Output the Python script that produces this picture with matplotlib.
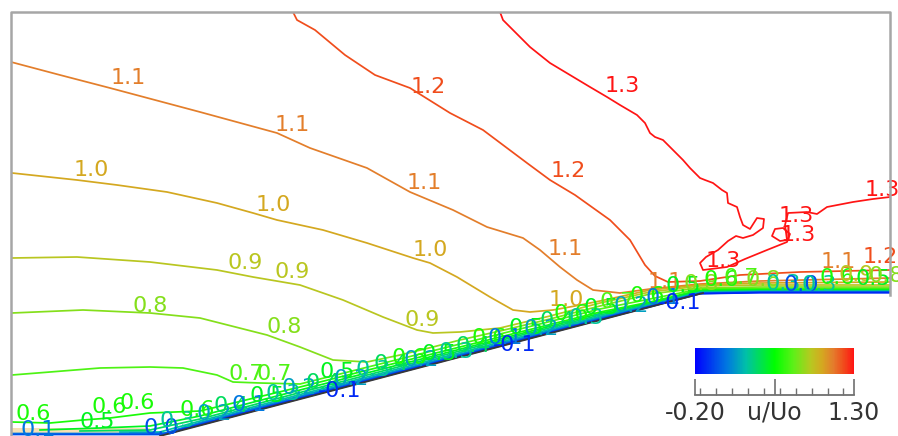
import matplotlib
matplotlib.use("Agg")
import matplotlib.pyplot as plt
from matplotlib.colors import LinearSegmentedColormap, Normalize
from matplotlib.cm import ScalarMappable
from matplotlib.ticker import FixedLocator, MultipleLocator

plt.rcParams["font.family"] = ["DejaVu Sans"]

# ---------------------------------------------------------------------------
# Domain geometry (x, y in mm; ramp rises from the lower flat to the upper flat)
# ---------------------------------------------------------------------------
frame_x = [0, 0, 879, 879]
frame_y = [0, 424, 424, 141]
wall_x = [149, 692]
wall_y = [0, 143]

# ---------------------------------------------------------------------------
# Iso-lines of u/Uo
# ---------------------------------------------------------------------------
x13 = [489, 492, 519, 539, 579, 596, 609, 626, 634, 639, 644, 652, 659, 672, 679,
       689, 694, 702, 711, 716, 717, 726, 729, 732, 739, 746, 753, 752, 742, 732,
       725, 717, 707, 695, 689, 692, 716, 734, 756, 776, 779, 772, 764, 761, 769,
       776, 774, 777, 796, 806, 816, 842, 862, 879]
y13 = [424, 416, 389, 373, 349, 339, 331, 321, 313, 303, 299, 296, 289, 276, 268,
       258, 256, 253, 246, 243, 233, 229, 219, 211, 207, 218, 217, 208, 201, 198,
       200, 195, 186, 179, 173, 166, 169, 177, 186, 194, 202, 208, 207, 200, 195,
       196, 211, 223, 224, 222, 229, 234, 237, 239]

x12 = [282, 286, 304, 334, 364, 399, 439, 472, 516, 539, 564, 599, 619, 634, 644,
       657, 689, 729, 789, 879]
y12 = [424, 416, 406, 381, 361, 348, 323, 306, 273, 256, 241, 216, 196, 171, 160,
       154, 155, 161, 164, 166]

x11 = [0, 49, 99, 189, 266, 299, 356, 399, 442, 476, 512, 529, 549, 566, 582, 609,
       639, 689, 749, 879]
y11 = [374, 361, 348, 324, 303, 288, 268, 244, 226, 209, 198, 186, 169, 156, 146,
       143, 147, 152, 155, 158]

x10 = [1, 66, 106, 156, 206, 242, 266, 312, 356, 402, 419, 446, 479, 502, 519, 542,
       564, 589, 639, 689, 749, 879]
y10 = [263, 256, 251, 244, 233, 223, 216, 206, 193, 178, 173, 159, 139, 126, 124,
       126, 130, 135, 146, 151, 153, 154]

x09 = [1, 66, 139, 206, 242, 289, 332, 372, 406, 422, 449, 489, 539, 589, 639, 689,
       749, 879]
y09 = [178, 179, 174, 166, 159, 151, 136, 119, 106, 103, 104, 108, 120, 133, 144,
       150, 151, 151]

x08 = [1, 72, 139, 189, 256, 289, 322, 356, 389, 422, 449, 489, 539, 589, 639, 689,
       749, 879]
y08 = [123, 126, 123, 118, 101, 89, 76, 74, 81, 89, 96, 105, 117, 130, 142, 148,
       149, 149]

x07 = [1, 39, 89, 139, 172, 206, 222, 249, 289, 389, 489, 589, 639, 689, 749, 879]
y07 = [61, 64, 68, 69, 68, 61, 54, 53, 52, 77, 102, 127, 137, 147, 147.5, 147.5]

x06 = [1, 39, 72, 99, 139, 189, 289, 389, 489, 589, 639, 689, 749, 879]
y06 = [14, 13, 16, 18, 23, 25, 49, 74, 99, 124, 134, 146, 146.5, 146.5]

x05 = [29, 89, 139, 189, 289, 389, 489, 589, 639, 689, 749, 879]
y05 = [6, 8, 10, 20, 46, 71.5, 97, 122.5, 133, 145, 145.8, 145.8]

x04 = [69, 139, 189, 289, 389, 489, 589, 639, 689, 749, 879]
y04 = [5, 6, 17, 43.5, 69.5, 95.5, 121, 132, 144.3, 145.2, 145.2]

x03 = [109, 149, 189, 289, 389, 489, 589, 639, 689, 749, 879]
y03 = [4, 4, 15, 41.5, 67.7, 93.8, 119.7, 131, 143.7, 144.7, 144.7]

x02 = [119, 154, 189, 289, 389, 489, 589, 639, 689, 749, 879]
y02 = [3, 3, 13.5, 40, 66.2, 92.4, 118.5, 130.5, 143.2, 144.3, 144.3]

x01 = [0, 159, 189, 289, 389, 489, 589, 639, 689, 749, 879]
y01 = [2.5, 2.5, 12.5, 38.8, 65.1, 91.4, 117.6, 130, 142.8, 144, 144]

x00 = [0, 150, 189, 289, 389, 489, 589, 639, 689, 749, 879]
y00 = [1.5, 1.5, 11.7, 38, 64.3, 90.6, 116.8, 129.5, 142.5, 143.6, 143.6]

xm1 = [169, 189, 289, 389, 489, 589, 639, 689, 749, 879]
ym1 = [6, 11, 37.4, 63.7, 90, 116.3, 129.2, 142.3, 143.3, 143.3]

# Pale bands hugging the walls
band_left_x = [0, 139]
band_left_lo = [3, 3]
band_left_hi = [8, 8]
band_right_x = [819, 879]
band_right_lo = [144, 144]
band_right_hi = [149, 149]

# ---------------------------------------------------------------------------
# Inline labels: position and level
# ---------------------------------------------------------------------------
label_x = [611, 871, 785, 787, 712,
           417, 557, 869,
           117, 281, 413, 554, 654, 827,
           80, 262, 419, 555,
           234, 281, 411,
           139, 273,
           235, 263,
           22, 98, 126]
label_y = [350, 246, 220, 201, 175,
           349, 265, 179,
           358, 311, 253, 187, 154, 174,
           266, 231, 186, 136,
           173, 164, 116,
           130, 109,
           62, 62,
           22, 29, 33]
label_level = [1.3, 1.3, 1.3, 1.3, 1.3,
               1.2, 1.2, 1.2,
               1.1, 1.1, 1.1, 1.1, 1.1, 1.1,
               1.0, 1.0, 1.0, 1.0,
               0.9, 0.9, 0.9,
               0.8, 0.8,
               0.7, 0.7,
               0.6, 0.6, 0.6]

# Labels crowded in the thin shear layer along the walls
wall_label_x = [27, 86, 150, 166, 186, 203, 220, 238, 256, 272, 288, 312, 326, 329,
                340, 362, 380, 398, 410, 428, 445, 462, 478, 494, 504, 515, 530, 546,
                560, 575, 590, 606, 620, 636, 652, 669, 672, 690, 710, 730, 752, 772,
                790, 808, 826, 845, 862, 875]
wall_label_y = [6, 14, 8, 15, 26, 22, 30, 31, 40, 42, 48, 53, 64, 45,
                57, 66, 72, 78, 76, 82, 84, 90, 98, 98, 91, 108, 107, 115,
                122, 118, 128, 134, 130, 140, 138, 133, 150, 152, 156, 158, 156, 152,
                151, 151, 158, 161, 157, 160]
wall_label_level = [0.1, 0.5, 0.0, 0.3, 0.6, 0.2, 0.4, 0.1, 0.5, 0.3, 0.2, 0.4, 0.5, -0.1,
                    0.2, 0.3, 0.4, 0.6, 0.2, 0.5, 0.3, 0.4, 0.6, 0.1, -0.1, 0.5, 0.2, 0.4,
                    0.6, 0.3, 0.5, 0.7, 0.2, 0.6, 0.1, -0.1, 0.5, 0.8, 0.6, 0.7, 0.8, 0.3,
                    0.0, 0.3, 0.6, 0.9, 0.5, 0.8]

# Colour scale
vmin, vmax = -0.20, 1.30
scale_ticks = [-0.20, 0.55, 1.30]
scale_labels = ["-0.20", "u/Uo", "1.30"]

cmap = LinearSegmentedColormap.from_list(
    "uvel",
    [(0.0, "#0000ff"), (0.2, "#0078e0"), (0.32, "#00c0a8"), (0.5, "#00ff00"),
     (0.62, "#5ef018"), (0.73, "#b8c820"), (0.80, "#d4a820"), (0.87, "#e47c2c"),
     (0.935, "#f04c1c"), (1.0, "#ff1414")])
norm = Normalize(vmin, vmax)

# ---------------------------------------------------------------------------
W, H = 898, 436
fig = plt.figure(figsize=(W / 100, H / 100), dpi=100)
ax = fig.add_axes([11 / W, 0, 879 / W, 424 / H])
ax.set_xlim(0, 879)
ax.set_ylim(0, 424)
ax.axis("off")

ax.fill_between(band_left_x, band_left_lo, band_left_hi, color="#f6dfb4", lw=0, zorder=1)
ax.fill_between(band_right_x, band_right_lo, band_right_hi, color="#eef0b0", lw=0, zorder=1)

iso_lines = [
    (1.3, x13, y13), (1.2, x12, y12), (1.1, x11, y11), (1.0, x10, y10),
    (0.9, x09, y09), (0.8, x08, y08), (0.7, x07, y07), (0.6, x06, y06),
    (0.5, x05, y05), (0.4, x04, y04), (0.3, x03, y03), (0.2, x02, y02),
    (0.1, x01, y01), (0.0, x00, y00), (-0.1, xm1, ym1),
]
for level, xs, ys in iso_lines:
    ax.plot(xs, ys, color=cmap(norm(level)), lw=1.25, solid_joinstyle="round",
            zorder=3)

ax.plot(wall_x, wall_y, color="#383838", lw=1.3, zorder=4)
ax.plot(frame_x, frame_y, color="#a6a6a6", lw=1.8, clip_on=False, zorder=6)

for xs, ys, levels in [(label_x, label_y, label_level),
                       (wall_label_x, wall_label_y, wall_label_level)]:
    for x, y, lev in zip(xs, ys, levels):
        ax.text(x, y, f"{lev:.1f}", color=cmap(norm(lev)), fontsize=16,
                ha="center", va="center", clip_on=False, zorder=5)

# Colour bar
cax = fig.add_axes([695 / W, (H - 374) / H, 159 / W, 26 / H])
cb = fig.colorbar(ScalarMappable(norm=norm, cmap=cmap), cax=cax,
                  orientation="horizontal")
cb.outline.set_visible(False)
cb.set_ticks([])

sax = fig.add_axes([695 / W, (H - 395) / H, 159 / W, 16 / H])
sax.patch.set_alpha(0)
sax.set_xlim(vmin, vmax)
sax.set_yticks([])
for side in ("left", "right", "top"):
    sax.spines[side].set_visible(False)
sax.spines["bottom"].set_color("#707070")
sax.spines["bottom"].set_linewidth(1.3)
sax.xaxis.set_major_locator(FixedLocator(scale_ticks))
sax.set_xticklabels(scale_labels)
sax.xaxis.set_minor_locator(MultipleLocator(0.15))
sax.tick_params(axis="x", which="major", direction="in", length=11.5, width=1.2,
                color="#707070", labelsize=17, labelcolor="#333333", pad=4)
sax.tick_params(axis="x", which="minor", direction="in", length=5, width=1.0,
                color="#707070")

fig.savefig("out.png", dpi=100)
